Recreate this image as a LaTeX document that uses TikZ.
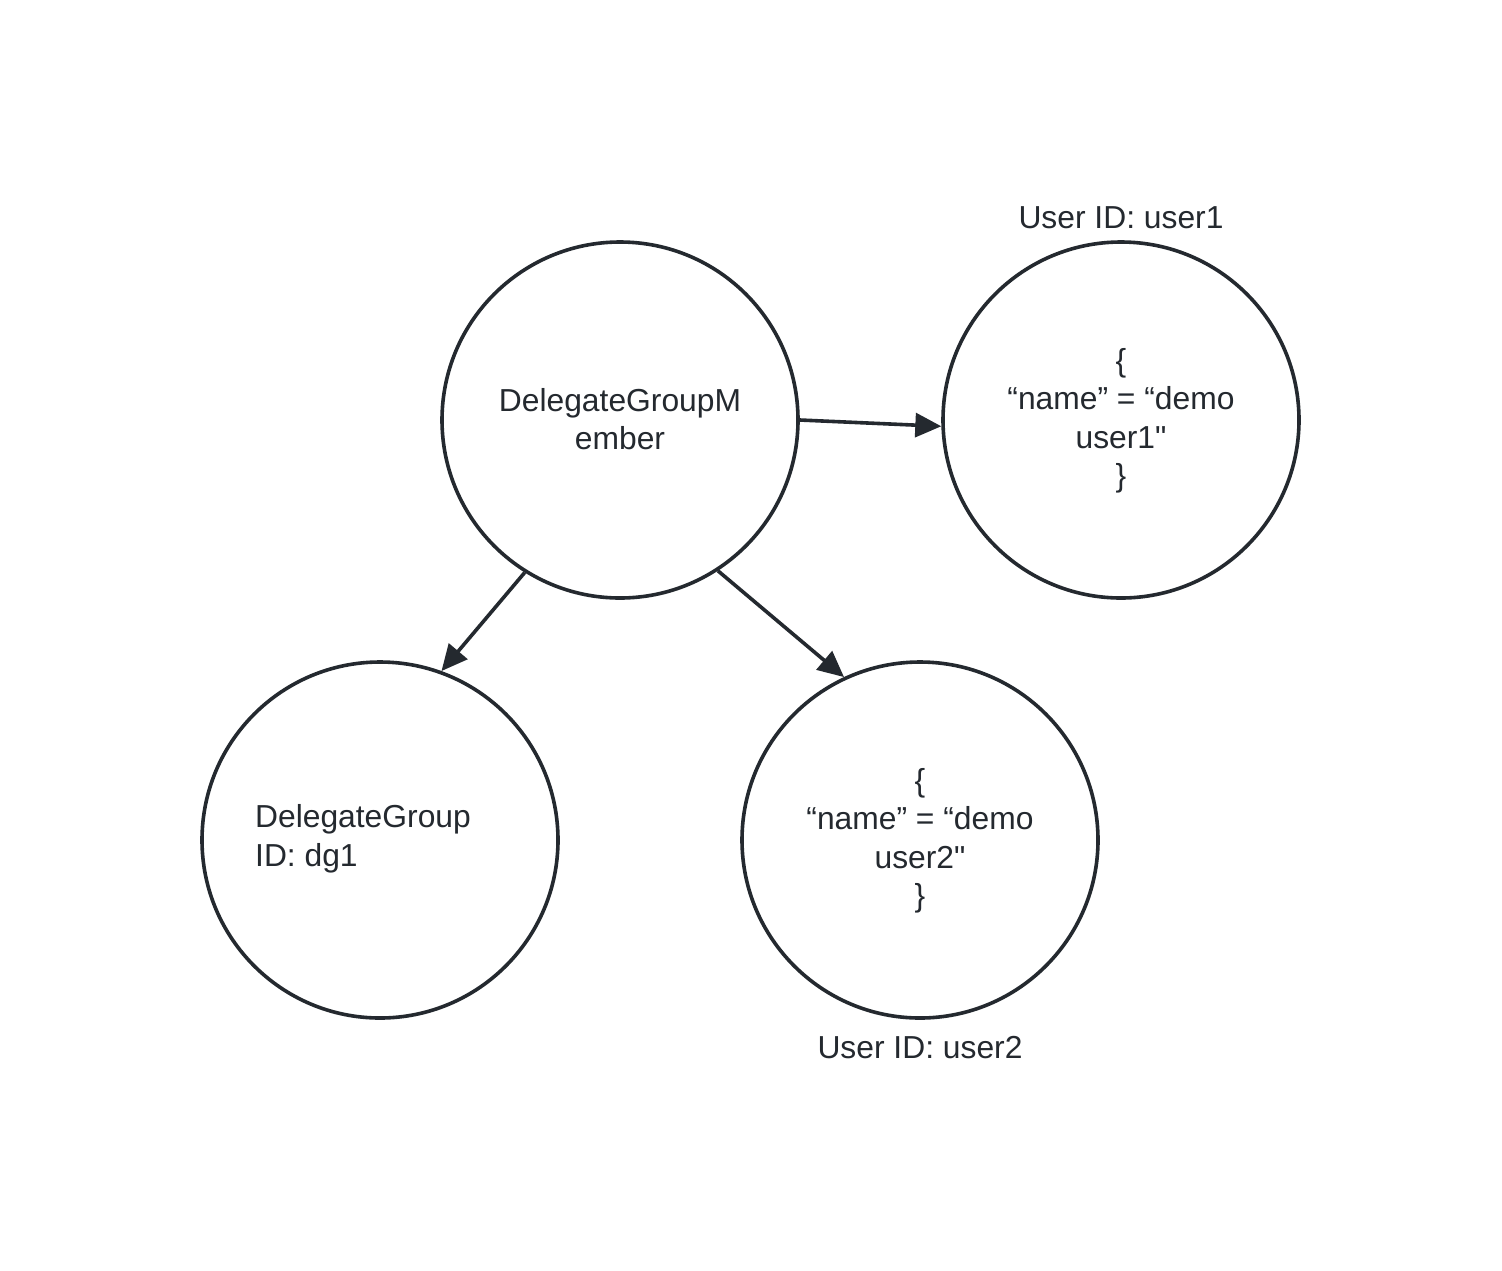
\documentclass[tikz,border=0pt]{standalone}
\usepackage{fontspec}
\setmainfont{Liberation Sans}
\newfontfamily\libsans{Liberation Sans}
\usetikzlibrary{arrows.meta}
\definecolor{ink}{HTML}{24292F}
\tikzset{
  bubble/.style={draw=ink, line width=3.6pt, circle, minimum size=356pt, inner sep=0pt},
  lbl/.style={text=ink, font=\libsans\fontsize{31.8}{38.5}\selectfont, align=center, inner sep=0pt},
  conn/.style={draw=ink, line width=3.6pt, -{Triangle[length=26pt,width=24pt]}}
}
\begin{document}
\begin{tikzpicture}[x=1pt,y=-1pt]
\useasboundingbox (0,0) rectangle (1502,1270);
\fill[white] (0,0) rectangle (1502,1270);
\node[bubble] (dgm) at (620,420) {};
\node[bubble] (u1) at (1121,420) {};
\node[bubble] (dg) at (380,840) {};
\node[bubble] (u2) at (920,840) {};
\node[lbl] (tdgm) at (620,419) {DelegateGroupM\\ember};
\node[lbl] (tu1) at (1121,421) {\{\\“name” = “demo\\user1"\\\}};
\node[lbl, align=left] (tdg) at (363,839) {DelegateGroup\\ID: dg1};
\node[lbl] (tu2) at (920,841) {\{\\“name” = “demo\\user2"\\\}};
\node[lbl] (id1) at (1121,218) {User ID: user1};
\node[lbl] (id2) at (920,1048) {User ID: user2};
\draw[conn] (dgm.-0.6) -- (u1.182.3);
\draw[conn] (dgm.238.8) -- (dg.70);
\draw[conn] (dgm.303.7) -- (u2.115.6);
\end{tikzpicture}
\end{document}
